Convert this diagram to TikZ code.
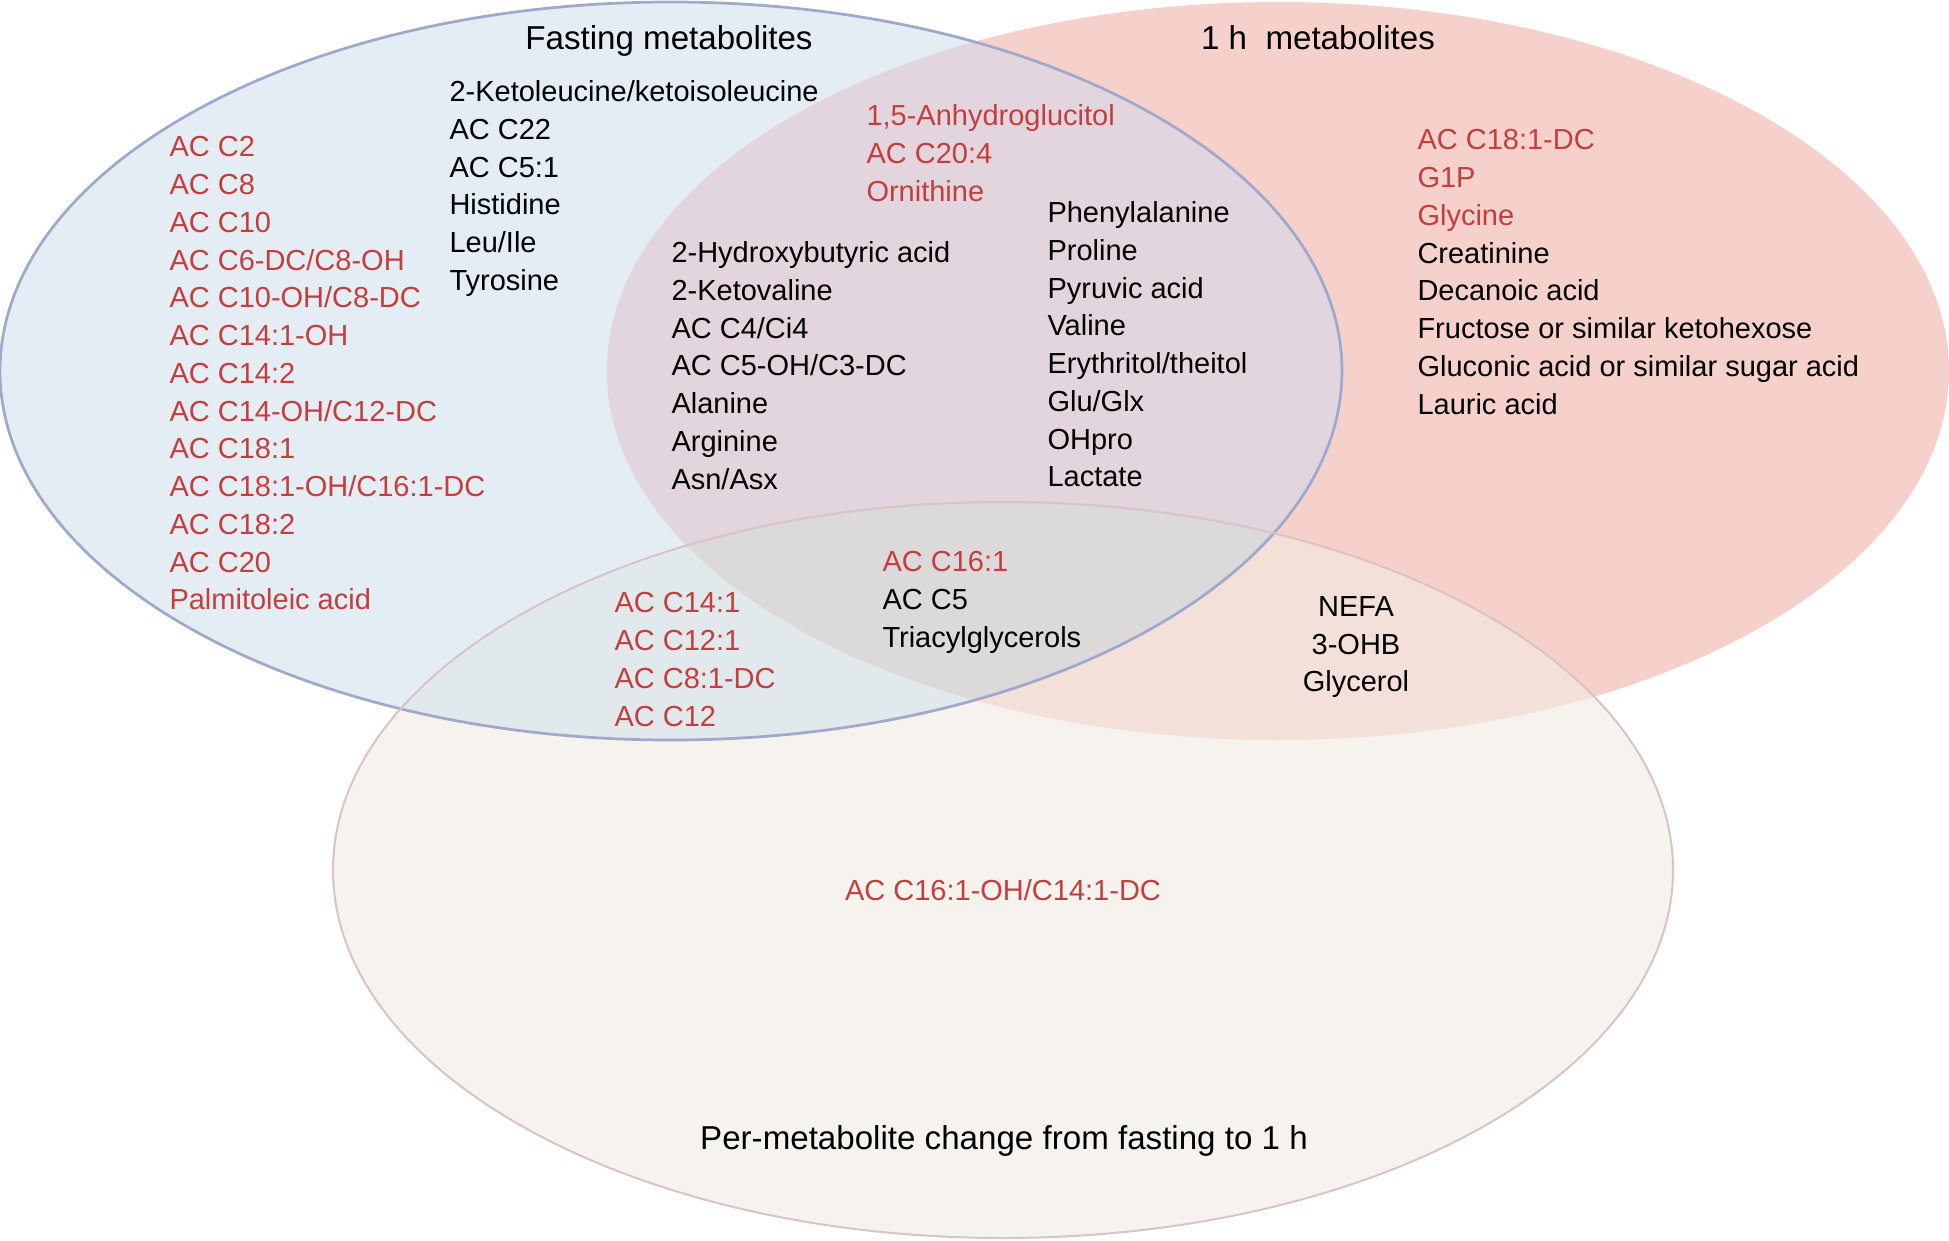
\documentclass[tikz,border=0pt]{standalone}
\usepackage{fontspec}
\setmainfont{Liberation Sans}
\definecolor{fastfill}{HTML}{E4ECF4}
\definecolor{hourfill}{HTML}{F6D1CB}
\definecolor{chgfill}{HTML}{F6F3EE}
\definecolor{fasthour}{HTML}{E2D5DD}
\definecolor{fastchg}{HTML}{E2E9EC}
\definecolor{hourchg}{HTML}{F3E1D9}
\definecolor{allfill}{HTML}{DCD9DB}
\definecolor{fastline}{HTML}{A0A8CC}
\definecolor{chgline}{HTML}{D9C4C4}
\definecolor{redtext}{HTML}{C43E3E}

\begin{document}
\begin{tikzpicture}[x=0.4pt, y=-0.4pt,
  lst/.style={align=left, anchor=north west, inner sep=0pt,
              font=\fontsize{11.6}{15.1}\selectfont},
  mid/.style={lst, align=center, anchor=north},
  hd/.style={anchor=base, inner sep=0pt, font=\fontsize{13.25}{16}\selectfont},
  rd/.style={text=redtext}]
\useasboundingbox (0,0) rectangle (1949,1241);
\coordinate (fc) at (671,371);
\coordinate (hc) at (1278,371);
\coordinate (cc) at (1003,870);
% single sets
\fill[fastfill] (fc) ellipse [x radius=671, y radius=369];
\fill[hourfill] (hc) ellipse [x radius=671, y radius=369];
\fill[chgfill] (cc) ellipse [x radius=670, y radius=368];
% overlaps
\begin{scope}
  \clip (fc) ellipse [x radius=671, y radius=369];
  \fill[fasthour] (hc) ellipse [x radius=671, y radius=369];
  \fill[fastchg] (cc) ellipse [x radius=670, y radius=368];
\end{scope}
\begin{scope}
  \clip (hc) ellipse [x radius=671, y radius=369];
  \fill[hourchg] (cc) ellipse [x radius=670, y radius=368];
\end{scope}
\begin{scope}
  \clip (fc) ellipse [x radius=671, y radius=369];
  \clip (hc) ellipse [x radius=671, y radius=369];
  \fill[allfill] (cc) ellipse [x radius=670, y radius=368];
\end{scope}
\draw[fastline, line width=1.1pt] (fc) ellipse [x radius=671, y radius=369];
\draw[chgline, line width=0.8pt] (cc) ellipse [x radius=670, y radius=368];

% headings
\node[hd] (fasttitle) at (669,49) {Fasting metabolites};
\node[hd] (hourtitle) at (1318,49) {1 h\ \ metabolites};
\node[hd] (chgtitle) at (1004,1149) {Per-metabolite change from fasting to 1 h};

% fasting only
\node[lst, rd] (fastred) at (169,136) {AC C2\\AC C8\\AC C10\\AC C6-DC/C8-OH\\
  AC C10-OH/C8-DC\\AC C14:1-OH\\AC C14:2\\AC C14-OH/C12-DC\\AC C18:1\\
  AC C18:1-OH/C16:1-DC\\AC C18:2\\AC C20\\Palmitoleic acid};
\node[lst] (fastblk) at (449,80) {2-Ketoleucine/ketoisoleucine\\AC C22\\AC C5:1\\
  Histidine\\Leu/Ile\\Tyrosine};
% fasting and 1 h
\node[lst, rd] (bothred) at (866,104) {1,5-Anhydroglucitol\\AC C20:4\\Ornithine};
\node[lst] (bothleft) at (671,241) {2-Hydroxybutyric acid\\2-Ketovaline\\AC C4/Ci4\\
  AC C5-OH/C3-DC\\Alanine\\Arginine\\Asn/Asx};
\node[lst] (bothright) at (1047,201) {Phenylalanine\\Proline\\Pyruvic acid\\Valine\\
  Erythritol/theitol\\Glu/Glx\\OHpro\\Lactate};
% 1 h only
\node[lst] (hourblk) at (1417,129) {\textcolor{redtext}{AC C18:1-DC}\\
  \textcolor{redtext}{G1P}\\\textcolor{redtext}{Glycine}\\Creatinine\\Decanoic acid\\
  Fructose or similar ketohexose\\Gluconic acid or similar sugar acid\\Lauric acid};
% all three
\node[lst] (allblk) at (882,551) {\textcolor{redtext}{AC C16:1}\\AC C5\\Triacylglycerols};
% fasting and change
\node[lst, rd] (fastchgblk) at (614,592) {AC C14:1\\AC C12:1\\AC C8:1-DC\\AC C12};
% 1 h and change
\node[mid] (hourchgblk) at (1356,596) {NEFA\\3-OHB\\Glycerol};
% change only
\node[hd, rd, font=\fontsize{11.6}{15.1}\selectfont] (chgblk) at (1003,900)
  {AC C16:1-OH/C14:1-DC};
\end{tikzpicture}
\end{document}
